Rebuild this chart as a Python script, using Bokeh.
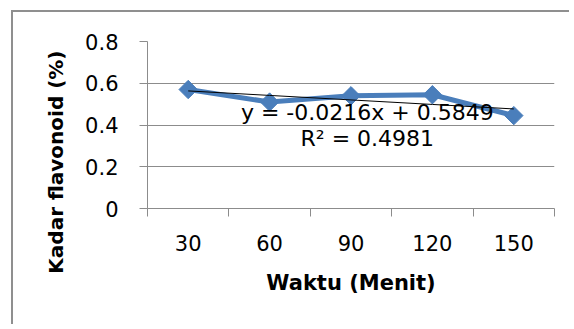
import math
from bokeh.plotting import figure
from bokeh.models import FixedTicker, Label, Range1d, Title
from bokeh.embed import file_html
from bokeh.resources import INLINE

# data
categories = ["30", "60", "90", "120", "150"]
kadar = [0.57, 0.51, 0.54, 0.545, 0.445]
y_ticks = [0, 0.2, 0.4, 0.6, 0.8]
y_tick_labels = ["0", "0.2", "0.4", "0.6", "0.8"]
slope = -0.0216
intercept = 0.5849
r2 = 0.4981

xs = list(range(1, len(categories) + 1))
trend = [slope * x + intercept for x in xs]

FONT = "DejaVu Sans"
GRID = "#8c8c8c"
BLUE = "#4a7ebb"

p = figure(width=558, height=314, output_backend="svg", toolbar_location=None,
           x_range=Range1d(0.5, 5.5), y_range=Range1d(0, 0.8),
           min_border_left=134, min_border_right=17, min_border_top=29, min_border_bottom=118)
p.styles = {"margin-left": "11px", "margin-top": "10px",
            "border-left": "2px solid #8f8f8f", "border-top": "2px solid #8f8f8f"}
p.outline_line_color = None
p.background_fill_color = "white"
p.border_fill_color = "white"

# x axis
p.xaxis.ticker = FixedTicker(ticks=xs, minor_ticks=[0.5, 1.5, 2.5, 3.5, 4.5, 5.5])
p.xaxis.major_label_overrides = {x: c for x, c in zip(xs, categories)}
p.xaxis.major_tick_line_color = None
p.xaxis.major_tick_out = 8
p.xaxis.major_tick_in = 0
p.xaxis.minor_tick_out = 8
p.xaxis.minor_tick_in = 0
p.xaxis.minor_tick_line_color = GRID
p.xaxis.axis_line_color = GRID
p.xaxis.major_label_standoff = 18
p.xaxis.major_label_text_font = FONT
p.xaxis.major_label_text_font_size = "21px"
p.xaxis.major_label_text_color = "black"
p.xaxis.axis_label = "Waktu (Menit)"
p.xaxis.axis_label_standoff = 17
p.xaxis.axis_label_text_font = FONT
p.xaxis.axis_label_text_font_size = "21px"
p.xaxis.axis_label_text_font_style = "bold"
p.xaxis.axis_label_text_color = "black"

# y axis
p.yaxis.ticker = FixedTicker(ticks=y_ticks, minor_ticks=[])
p.yaxis.major_label_overrides = {t: l for t, l in zip(y_ticks, y_tick_labels)}
p.yaxis.major_tick_out = 8
p.yaxis.major_tick_in = 0
p.yaxis.major_tick_line_color = GRID
p.yaxis.axis_line_color = GRID
p.yaxis.major_label_standoff = 21
p.yaxis.major_label_text_font = FONT
p.yaxis.major_label_text_font_size = "21px"
p.yaxis.major_label_text_color = "black"

# y axis title (top end aligned like the reference)
p.add_layout(Title(text="Kadar flavonoid (%)", align="right", offset=9,
                   text_font=FONT, text_font_size="20px", text_font_style="bold",
                   text_color="black", standoff=30), "left")

p.xgrid.grid_line_color = None
p.ygrid.ticker = FixedTicker(ticks=y_ticks)
p.ygrid.grid_line_color = GRID

# series
p.line(xs, kadar, line_color=BLUE, line_width=5, line_join="round")
p.scatter(xs, kadar, marker="square", angle=math.pi / 4, size=13,
          fill_color=BLUE, line_color=BLUE)
p.line(xs, trend, line_color="black", line_width=1)

# equation
eq = "y = %.4fx + %.4f" % (slope, intercept)
p.add_layout(Label(x=3.2, y=0.46, text=eq, text_align="center", text_baseline="middle",
                   text_font=FONT, text_font_size="22px", text_color="black"))
p.add_layout(Label(x=3.2, y=0.337, text="R² = %.4f" % r2, text_align="center",
                   text_baseline="middle", text_font=FONT, text_font_size="22px",
                   text_color="black"))

open("out.html", "w").write(file_html(p, INLINE))
